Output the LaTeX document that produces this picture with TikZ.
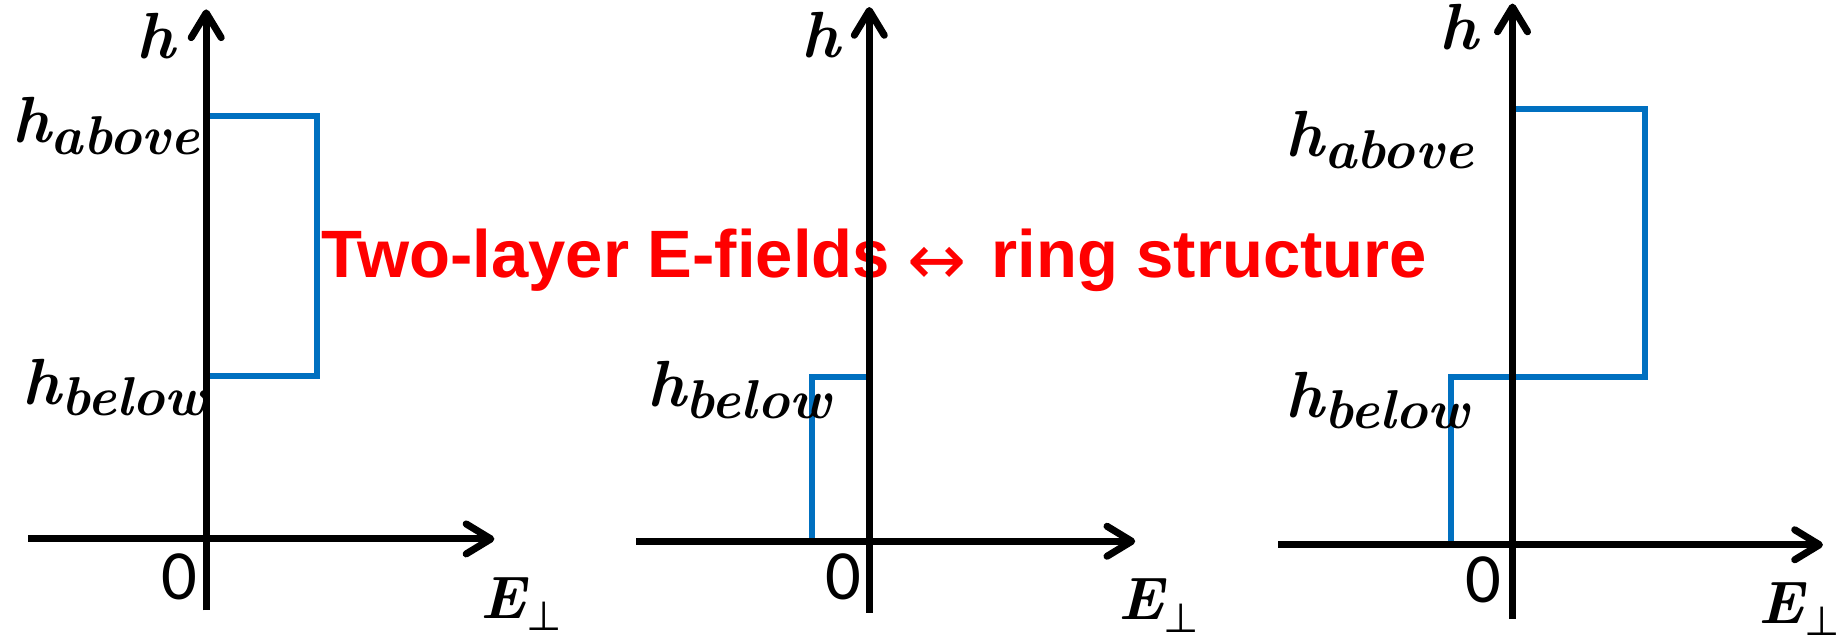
\documentclass[tikz,border=0pt]{standalone}
\usepackage{fontspec}
\newfontfamily\arialf{Liberation Sans}
\newfontfamily\calibrif{Carlito}
\newfontfamily\symf{DejaVu Sans}
\usetikzlibrary{arrows.meta}
\definecolor{lineblue}{HTML}{0070C0}
\definecolor{txtred}{HTML}{FF0000}
\newcommand\hsub[1]{{\bfseries\itshape h}\raisebox{-6.6pt}{\fontsize{31}{34}\selectfont\bfseries\itshape #1}}
\newcommand\eperp{{\bfseries\itshape E}\raisebox{-7pt}{\symf\mdseries\upshape\fontsize{23}{26}\selectfont ⊥}}
\begin{document}
\begin{tikzpicture}[x=0.6642pt,y=-0.6642pt,
  axisline/.style={line width=4pt,-{Straight Barb[length=14pt,width=17pt,round]}},
  bluestep/.style={line width=3.4pt,draw=lineblue,line join=miter},
  mathlbl/.style={font=\fontsize{37}{40}\selectfont,inner sep=0pt,anchor=base},
  elbl/.style={font=\fontsize{34}{38}\selectfont,inner sep=0pt,anchor=base west},
  zerolbl/.style={font=\calibrif\fontsize{40}{44}\selectfont,inner sep=0pt,anchor=base},
  redtxt/.style={font=\arialf\bfseries\fontsize{38}{42}\selectfont,text=txtred,inner sep=0pt,anchor=base west}]
\useasboundingbox (0,0) rectangle (1568,545);
% title
\node[redtxt] (title) at (274,237) {Two-layer E-fields\hspace{10pt}\raisebox{-4pt}{\symf\mdseries\fontsize{40}{44}\selectfont ↔}\hspace{14pt}ring structure};
% ---- panel 1 ----
\coordinate (p1vb) at (176,521);
\coordinate (p1vt) at (176,8);
\coordinate (p1hl) at (24,460);
\coordinate (p1hr) at (422,460);
\coordinate (p1a) at (176,99);
\coordinate (p1b) at (271,99);
\coordinate (p1c) at (271,321);
\coordinate (p1d) at (176,321);
\draw[bluestep] (p1a) -- (p1b) -- (p1c) -- (p1d);
\draw[axisline] (p1vb) -- (p1vt);
\draw[axisline] (p1hl) -- (p1hr);
\node[mathlbl] (p1h) at (133,50) {\bfseries\itshape h};
\node[mathlbl] (p1ha) at (90.5,122) {\hsub{above}};
\node[mathlbl] (p1hb) at (98,345) {\hsub{below}};
\node[zerolbl] (p1z) at (153,512) {0};
\node[elbl] (p1e) at (410,527.5) {\eperp};
% ---- panel 2 ----
\coordinate (p2vb) at (742,523);
\coordinate (p2vt) at (742,6);
\coordinate (p2hl) at (543,462);
\coordinate (p2hr) at (969,462);
\coordinate (p2a) at (693,462);
\coordinate (p2b) at (693,322);
\coordinate (p2c) at (745,322);
\draw[bluestep] (p2a) -- (p2b) -- (p2c);
\draw[axisline] (p2vb) -- (p2vt);
\draw[axisline] (p2hl) -- (p2hr);
\node[mathlbl] (p2h) at (701,49) {\bfseries\itshape h};
\node[mathlbl] (p2hb) at (631,347) {\hsub{below}};
\node[zerolbl] (p2z) at (720,512) {0};
\node[elbl] (p2e) at (954.4,529) {\eperp};
% ---- panel 3 ----
\coordinate (p3vb) at (1291,528);
\coordinate (p3vt) at (1291,3);
\coordinate (p3hl) at (1091,465);
\coordinate (p3hr) at (1556,465);
\coordinate (p3a) at (1291,92.7);
\coordinate (p3b) at (1403.7,92.7);
\coordinate (p3c) at (1403.7,322);
\coordinate (p3d) at (1238.8,322);
\coordinate (p3e) at (1238.8,465);
\draw[bluestep] (p3a) -- (p3b) -- (p3c) -- (p3d) -- (p3e);
\draw[axisline] (p3vb) -- (p3vt);
\draw[axisline] (p3hl) -- (p3hr);
\node[mathlbl] (p3h) at (1245,42) {\bfseries\itshape h};
\node[mathlbl] (p3ha) at (1177.5,134) {\hsub{above}};
\node[mathlbl] (p3hb) at (1176,356) {\hsub{below}};
\node[zerolbl] (p3z) at (1266,514) {0};
\node[elbl] (p3el) at (1501,532) {\eperp};
\end{tikzpicture}
\end{document}
